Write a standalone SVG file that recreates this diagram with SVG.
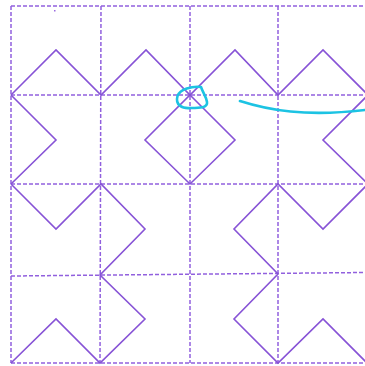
<svg xmlns="http://www.w3.org/2000/svg" width="365" height="366" viewBox="0 0 365 366">
<style>
.grid{fill:none;stroke:#9160de;stroke-width:1.5;stroke-dasharray:4 2}
.zig{fill:none;stroke:#8753d6;stroke-width:1.6;stroke-linejoin:miter}
.ink{fill:none;stroke:#1cc3e3;stroke-width:2.6;stroke-linecap:round;stroke-linejoin:round}
</style>
<rect width="365" height="366" fill="#ffffff"/>
<g id="grid">
<line class="grid" x1="11" y1="6" x2="365" y2="6"/>
<line class="grid" x1="11" y1="95" x2="365" y2="95"/>
<line class="grid" x1="11" y1="184" x2="365" y2="184"/>
<line class="grid" x1="11" y1="276" x2="365" y2="272.5"/>
<line class="grid" x1="11" y1="363" x2="365" y2="363"/>
<line class="grid" x1="11" y1="6" x2="11" y2="363"/>
<line class="grid" x1="101" y1="6" x2="100" y2="363"/>
<line class="grid" x1="190" y1="6" x2="190" y2="363"/>
<line class="grid" x1="278" y1="6" x2="278" y2="363"/>
</g>
<g id="pattern">
<polyline class="zig" points="11,95 56,50 101,95 146,50 190,95 235,50 278,95 323,50 368,95"/>
<polyline class="zig" points="11,95 56,140 11,184"/>
<polygon class="zig" points="190,95 235,140 190,184 145,140"/>
<polyline class="zig" points="368,95 323,140 368,184"/>
<polyline class="zig" points="11,184 56,229 101,184 145,229 100,275 145,319 100,363 56,319 11,363"/>
<polyline class="zig" points="368,184 323,229 278,184 234,229 278,274 234,319 278,363 323,319 368,364"/>
</g>
<g id="marks">
<rect x="54" y="10" width="1.5" height="1.5" fill="#9a6ae0"/>
<path class="ink" d="M 201 87 C 192 86 180 89 177.5 96 C 175 105 182 109 191 108 C 199 108 208 108 207 102 C 206 96 203 93 201 87 Z"/>
<path class="ink" d="M 240 101 C 268 110 305 117 365 110" stroke-width="2"/>
</g>
</svg>
